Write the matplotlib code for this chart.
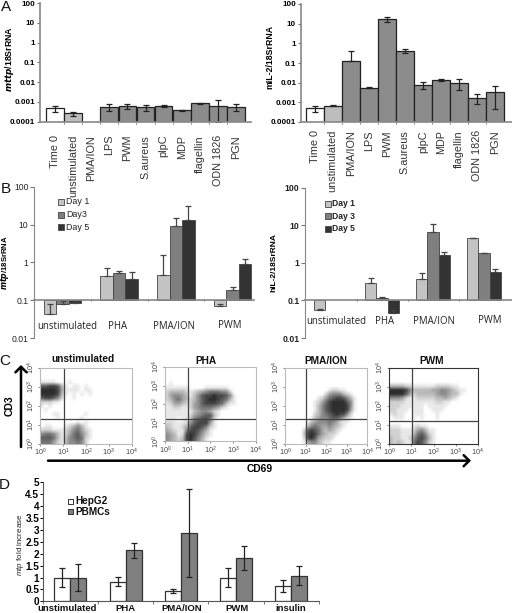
import matplotlib
matplotlib.use("Agg")
import matplotlib.pyplot as plt
import numpy as np

W, H = 512, 613
plt.rcParams['font.family'] = ['Liberation Sans', 'DejaVu Sans']
plt.rcParams['mathtext.fontset'] = 'custom'
plt.rcParams['mathtext.rm'] = 'Liberation Sans'
plt.rcParams['mathtext.it'] = 'Liberation Sans:italic'
plt.rcParams['mathtext.bf'] = 'Liberation Sans:bold'

# panel A
a_labels_left = ['Time 0', 'unstimulated', 'PMA/ION', 'LPS', 'PWM', 'S.aureus', 'plpC', 'MDP', 'flagellin', 'ODN 1826', 'PGN']
a_mttp = [4.7e-4, 2.6e-4, np.nan, 5.8e-4, 6.0e-4, 5.3e-4, 6.5e-4, 3.7e-4, 8.8e-4, 6.5e-4, 5.5e-4]
a_mttp_hi = [6.2e-4, 3.2e-4, np.nan, 8.2e-4, 7.6e-4, 7.0e-4, 7.3e-4, 3.8e-4, 9.3e-4, 1.25e-3, 7.9e-4]
a_mttp_lo = [3.1e-4, 1.9e-4, np.nan, 3.3e-4, 4.6e-4, 3.5e-4, 5.3e-4, 3.6e-4, 8.2e-4, 1.0e-4, 3.5e-4]
a_il2 = [5.2e-4, 6.8e-4, 0.13, 5.6e-3, 16.6, 0.42, 7.4e-3, 0.0134, 9.8e-3, 1.74e-3, 3.5e-3]
a_il2_hi = [6.8e-4, 7.1e-4, 0.39, 5.9e-3, 21.0, 0.49, 0.0102, 0.0156, 0.015, 2.7e-3, 7.1e-3]
a_il2_lo = [3.2e-4, 6.4e-4, 0.13, 5.1e-3, 12.6, 0.33, 5.0e-3, 0.0115, 4.1e-3, 8.3e-4, 4.6e-4]
a_ticks = [0.0001, 0.001, 0.01, 0.1, 1, 10, 100]
a_ticklabels = ['0.0001', '0.001', '0.01', '0.1', '1', '10', '100']

# panel B
b_groups = ['unstimulated', 'PHA', 'PMA/ION', 'PWM']
b_ticks = [0.01, 0.1, 1, 10, 100]
b_ticklabels = ['0.01', '0.1', '1', '10', '100']
mtp_day1 = [0.0437, 0.446, 0.46, 0.071]
mtp_day3 = [0.08, 0.524, 8.9, 0.187]
mtp_day5 = [0.083, 0.37, 13.0, 0.885]
mtp_day1_hi = [0.08, 0.71, 1.56, 0.08]
mtp_day3_hi = [0.095, 0.58, 14.7, 0.22]
mtp_day5_hi = [0.088, 0.57, 30.0, 1.22]
il2_day1 = [0.0565, 0.294, 0.376, 4.7]
il2_day3 = [np.nan, 0.113, 6.8, 1.84]
il2_day5 = [np.nan, 0.046, 1.63, 0.565]
il2_day1_hi = [0.06, 0.40, 0.53, 4.7]
il2_day3_hi = [np.nan, 0.125, 10.8, 1.84]
il2_day5_hi = [np.nan, 0.054, 1.95, 0.69]

# panel C, darkness on a coarse grid (top row first)
flow_unstim = [
    "", "", "",
    "11110001000000000000000",
    "77887310110100000000000",
    "99998411110110000000000",
    "99998310101010000000000",
    "78875200100000000000000",
    "22211000000000000000000",
    "10100000000000000000000",
    "01000000000000000000000",
    "00011000000100000000000",
    "00001000001000000000000",
    "00000000010100000000000",
    "01100012353100000000000",
    "22211123564210000000000",
    "56653124675310000000000",
    "77763135676210000000000",
    "66642135565200000000000",
]
flow_pha = [
    "", "", "", "",
    "01000000000000000000000",
    "11111100001111110000000",
    "23333212345666552000000",
    "24554313578898875100000",
    "23564323578998763100000",
    "12443224578887631100000",
    "11221124566654210000000",
    "11111113455421000000000",
    "11111124567731000000000",
    "11101136788620000000000",
    "22111257888410000000000",
    "32112478875210000000000",
    "43211688753100000000000",
    "54312898642100000000000",
    "54323897531000000000000",
]
flow_pma = [
    "", "", "", "", "",
    "00000000000012211000000",
    "00000000000245553210000",
    "00000000012467887531000",
    "00000000124689999751000",
    "00000000135789999851000",
    "00000000135789999841000",
    "00000000235678988520000",
    "00000001345567764210000",
    "00000013455565421100000",
    "00000035654454321000000",
    "00000278764343210000000",
    "00000389864322100000000",
    "00000289743221000000000",
    "00000145532110000000000",
]
flow_pwm = [
    "", "", "",
    "00000000000000000000000",
    "33332211111122221100000",
    "99998533333445543211000",
    "99997423333345543310000",
    "55542112222233432100000",
    "22221111111122110000000",
    "22211111101111100000000",
    "22111011100111000000000",
    "12110011100010000000000",
    "01110010100010000000000",
    "00000000000000000000000",
    "11100012110000000000000",
    "22211124531100000000000",
    "22211136752100000000000",
    "32211257863100000000000",
    "32321168752100000000000",
]
flow_decades = [0, 1, 2, 3, 4]

# panel D
d_groups = ['unstimulated', 'PHA', 'PMA/ION', 'PWM', 'insulin']
hepg2 = [1.0, 0.83, 0.42, 1.0, 0.63]
hepg2_hi = [1.4, 1.02, 0.5, 1.4, 0.88]
hepg2_lo = [0.6, 0.65, 0.35, 0.6, 0.38]
pbmc = [1.0, 2.15, 2.87, 1.83, 1.08]
pbmc_hi = [1.55, 2.47, 4.7, 2.33, 1.5]
pbmc_lo = [0.45, 1.82, 1.03, 1.33, 0.67]
d_ticks = [0, 0.5, 1, 1.5, 2, 2.5, 3, 3.5, 4, 4.5, 5]
d_ticklabels = ['0', '0.5', '1', '1.5', '2', '2.5', '3', '3.5', '4', '4.5', '5']

fig = plt.figure(figsize=(W / 100, H / 100), dpi=100)


def px_axes(x0, y0, x1, y1):
    # pixel box, y measured from the top of the image
    ax = fig.add_axes([x0 / W, 1 - y1 / H, (x1 - x0) / W, (y1 - y0) / H])
    ax.patch.set_alpha(0)
    return ax


def px_text(x, y, s, **kw):
    kw.setdefault('ha', 'center')
    kw.setdefault('va', 'center')
    fig.text(x / W, 1 - y / H, s, **kw)


def panel_a(x0, x1, y0, y1, first, step, values, hi, lo, ylab, ylab_x, ylab_y, lab_pad):
    ax = px_axes(x0, y0, x1, y1)
    xs = np.arange(len(values))
    colors = ['white', '#bdbdbd'] + ['#8c8c8c'] * (len(values) - 2)
    ax.bar(xs, values, width=0.98, color=colors, edgecolor='#222222', linewidth=0.9)
    v = np.array(values)
    yerr = [v - np.array(lo), np.array(hi) - v]
    ax.errorbar(xs, v, yerr=yerr, fmt='none', ecolor='#222222', elinewidth=0.9, capsize=2, capthick=0.9)
    ax.set_yscale('log')
    ax.set_ylim(0.0001, 100)
    ax.set_xlim(-(first - x0) / step, (x1 - first) / step)
    ax.set_yticks(a_ticks)
    ax.set_yticklabels(a_ticklabels, fontsize=5.9, fontweight='bold')
    ax.minorticks_off()
    ax.set_xticks(xs)
    ax.set_xticklabels(a_labels_left, rotation=90, fontsize=7.8, color='#333333')
    ax.tick_params(axis='x', length=0, pad=lab_pad)
    ax.tick_params(axis='y', length=2.5, width=0.8, color='#777777', pad=1)
    for s in ['top', 'right']:
        ax.spines[s].set_visible(False)
    for s in ['left', 'bottom']:
        ax.spines[s].set_color('#888888')
        ax.spines[s].set_linewidth(1.2)
    for e in xs[:-1] + 0.5:
        ax.plot([e, e], [0.0001, 0.00008], color='#888888', lw=0.6, clip_on=False)
    px_text(ylab_x, ylab_y, ylab, rotation=90, fontsize=6.3, fontweight='bold')


panel_a(40, 251, 3, 121.7, 55, 18.1, a_mttp, a_mttp_hi, a_mttp_lo, r'$\mathbfit{mttp}$/18SrRNA', 10, 59, 9.5)
panel_a(301, 512, 4, 122, 314.7, 18.05, a_il2, a_il2_hi, a_il2_lo, 'mIL-2/18SrRNA', 270, 57, 5.8)

day_colors = ['#c4c4c4', '#7f7f7f', '#333333']


def panel_b(x0, x1, y0, y1, first, step, width, series, highs, day_names, ylab, ylab_x, ylab_size,
            tick_weight, lab_x, lab_y, leg_x, leg_y, leg_size, leg_weight):
    ax = px_axes(x0, y0, x1, y1)
    xs = np.arange(len(b_groups))
    for k in range(3):
        pos = xs + (k - 1) * width
        v = np.array(series[k])
        h = np.array(highs[k])
        ax.bar(pos, v - 0.1, bottom=0.1, width=width, color=day_colors[k], edgecolor='#444444', linewidth=0.6)
        # whisker goes from the bar end to the cap
        ax.errorbar(pos, v, yerr=[np.zeros(4), np.maximum(h - v, 0)], fmt='none', ecolor='#444444',
                    elinewidth=0.9, capsize=2.2, capthick=0.9)
    ax.set_yscale('log')
    ax.set_ylim(0.01, 100)
    ax.set_xlim(-(first - x0) / step, (x1 - first) / step)
    ax.set_yticks(b_ticks)
    ax.set_yticklabels(b_ticklabels, fontsize=6.2, fontweight=tick_weight, color='#222222')
    ax.minorticks_off()
    ax.set_xticks(xs[:-1] + 0.5)
    ax.set_xticklabels([])
    ax.tick_params(axis='x', length=2, width=0.7, color='#666666', direction='inout')
    ax.tick_params(axis='y', length=3, width=0.8, color='#777777', pad=1)
    for s in ['top', 'right']:
        ax.spines[s].set_visible(False)
    ax.spines['left'].set_color('#888888')
    ax.spines['bottom'].set_position(('data', 0.1))
    ax.spines['bottom'].set_color('#888888')
    ax.spines['bottom'].set_linewidth(1.2)
    for g, lx, ly in zip(b_groups, lab_x, lab_y):
        px_text(lx, ly, g, fontsize=6.9, color='#222222', family=['Open Sans', 'DejaVu Sans'])
    px_text(ylab_x, 262.5, ylab, rotation=90, fontsize=ylab_size, fontweight='bold')
    for k, name in enumerate(day_names):
        ly = leg_y + k * 12.6
        fig.patches.append(plt.Rectangle((leg_x / W, 1 - (ly + 3) / H), 6 / W, 6 / H, transform=fig.transFigure,
                                         facecolor=day_colors[k], edgecolor='#444444', linewidth=0.6))
        px_text(leg_x + 8, ly, name, ha='left', fontsize=leg_size, fontweight=leg_weight, color='#222222')


panel_b(34, 254, 186.7, 338, 62.5, 56.7, 0.222, [mtp_day1, mtp_day3, mtp_day5],
        [mtp_day1_hi, mtp_day3_hi, mtp_day5_hi], ['Day 1', 'Day3', 'Day 5'],
        r'$\mathbfit{mtp}$/18SrRNA', 5, 5.6, 'normal', [67, 118, 174, 230], [326.5, 326.5, 326.5, 325.5],
        58, 202, 6.4, 'normal')
panel_b(305, 512, 187.7, 338, 331, 51, 0.224, [il2_day1, il2_day3, il2_day5],
        [il2_day1_hi, il2_day3_hi, il2_day5_hi], ['Day 1', 'Day 3', 'Day 5'],
        'hIL-2/18SrRNA', 274, 6.0, 'bold', [336, 385, 434, 490], [321.5, 321.5, 321.5, 320.5],
        324.5, 203.5, 6.2, 'bold')


def panel_c(box, vline, hline, grid, title, title_x, title_y, edge):
    x0, y0, x1, y1 = box
    ax = px_axes(x0, y0, x1, y1)
    cols = 23
    arr = np.array([[int(c) for c in row.ljust(cols, '0')] for row in grid])
    ax.imshow(arr, cmap='gray_r', vmin=0, vmax=11, extent=[0, 4, 0, 4], aspect='auto',
              interpolation='bilinear', origin='upper')
    ax.set_xlim(0, 4)
    ax.set_ylim(0, 4)
    ax.axvline((vline - x0) / (x1 - x0) * 4, color='#444444', lw=0.9)
    ax.axhline((y1 - hline) / (y1 - y0) * 4, color='#444444', lw=0.9)
    ax.set_xticks(flow_decades)
    ax.set_xticklabels([f'$10^{{{d}}}$' for d in flow_decades], fontsize=5.2, color='#444444')
    ax.set_yticks(flow_decades)
    ax.set_yticklabels([f'$10^{{{d}}}$' for d in flow_decades], fontsize=5.2, color='#444444',
                       rotation=90, va='center')
    ax.tick_params(length=1.5, width=0.5, pad=1, color='#555555')
    for s in ax.spines.values():
        s.set_color(edge)
        s.set_linewidth(0.8)
    px_text(title_x, title_y, title, fontsize=7.3, fontweight='bold', color='#111111')


panel_c((40, 368, 131.7, 443.7), 64.3, 419.3, flow_unstim, 'unstimulated', 83.5, 358.5, '#bbbbbb')
panel_c((165, 367, 255.7, 441.3), 187.7, 419.3, flow_pha, 'PHA', 205.5, 361, '#bbbbbb')
panel_c((285, 367.7, 367, 443.7), 306.3, 419, flow_pma, 'PMA/ION', 325.5, 360.5, '#bbbbbb')
panel_c((389.3, 368, 477.7, 443.7), 411.7, 421.3, flow_pwm, 'PWM', 431.5, 361, '#333333')

# big axis arrows for the dot plots
over = px_axes(0, 0, W, H)
over.set_xlim(0, W)
over.set_ylim(H, 0)
over.axis('off')
over.annotate('', xy=(21, 365), xytext=(21, 447),
              arrowprops=dict(arrowstyle='->,head_width=0.4,head_length=0.4', lw=1.8, color='black', shrinkA=0, shrinkB=0))
over.annotate('', xy=(471, 460.7), xytext=(48, 460.7),
              arrowprops=dict(arrowstyle='->,head_width=0.4,head_length=0.4', lw=1.8, color='black', shrinkA=0, shrinkB=0))
px_text(9.5, 406, 'CD3', rotation=90, fontsize=7.5, fontweight='bold')
px_text(260, 469.5, 'CD69', fontsize=7.4, fontweight='bold')

# panel D
ax = px_axes(42.7, 482.3, 319, 601.3)
xs = np.arange(len(d_groups))
bw = 16 / 55.3
h = np.array(hepg2)
p = np.array(pbmc)
ax.bar(xs - bw / 2, h, width=bw, color='white', edgecolor='#333333', linewidth=0.9)
ax.bar(xs + bw / 2, p, width=bw, color='#808080', edgecolor='#333333', linewidth=0.9)
ax.errorbar(xs - bw / 2, h, yerr=[h - np.array(hepg2_lo), np.array(hepg2_hi) - h], fmt='none',
            ecolor='#222222', elinewidth=0.9, capsize=2, capthick=0.9)
ax.errorbar(xs + bw / 2, p, yerr=[p - np.array(pbmc_lo), np.array(pbmc_hi) - p], fmt='none',
            ecolor='#222222', elinewidth=0.9, capsize=2, capthick=0.9)
ax.set_xlim(-0.5, 4.5)
ax.set_ylim(0, 5)
ax.set_yticks(d_ticks)
ax.set_yticklabels(d_ticklabels, fontsize=7.2, fontweight='bold')
ax.set_xticks(np.arange(0, 6) - 0.5)
ax.set_xticklabels([])
ax.tick_params(axis='x', length=2, width=0.6, color='#666666')
ax.tick_params(axis='y', length=2, width=0.7, pad=0.5)
for s in ['top', 'right']:
    ax.spines[s].set_visible(False)
ax.spines['left'].set_color('#555555')
ax.spines['bottom'].set_color('#555555')
for g, lx in zip(d_groups, [67.5, 125, 181.5, 237.5, 291]):
    px_text(lx, 608.5, g, fontsize=6.8, fontweight='bold', color='#111111')
px_text(20, 545, r'$\mathit{mtp}$ fold increase', rotation=90, fontsize=5.8, color='#222222')
for k, (name, col) in enumerate(zip(['HepG2', 'PBMCs'], ['white', '#808080'])):
    ly = 501.2 + k * 10.5
    fig.patches.append(plt.Rectangle((68 / W, 1 - (ly + 2.5) / H), 5 / W, 5 / H, transform=fig.transFigure,
                                     facecolor=col, edgecolor='#333333', linewidth=0.7))
    px_text(75.5, ly, name, ha='left', fontsize=7.2, fontweight='bold', color='#111111')

for letter, lx, ly in [('A', 6, 7), ('B', 5.5, 189), ('C', 5, 361), ('D', 4.5, 485)]:
    px_text(lx, ly, letter, fontsize=11, color='#111111')

fig.savefig('out.png', dpi=100)
